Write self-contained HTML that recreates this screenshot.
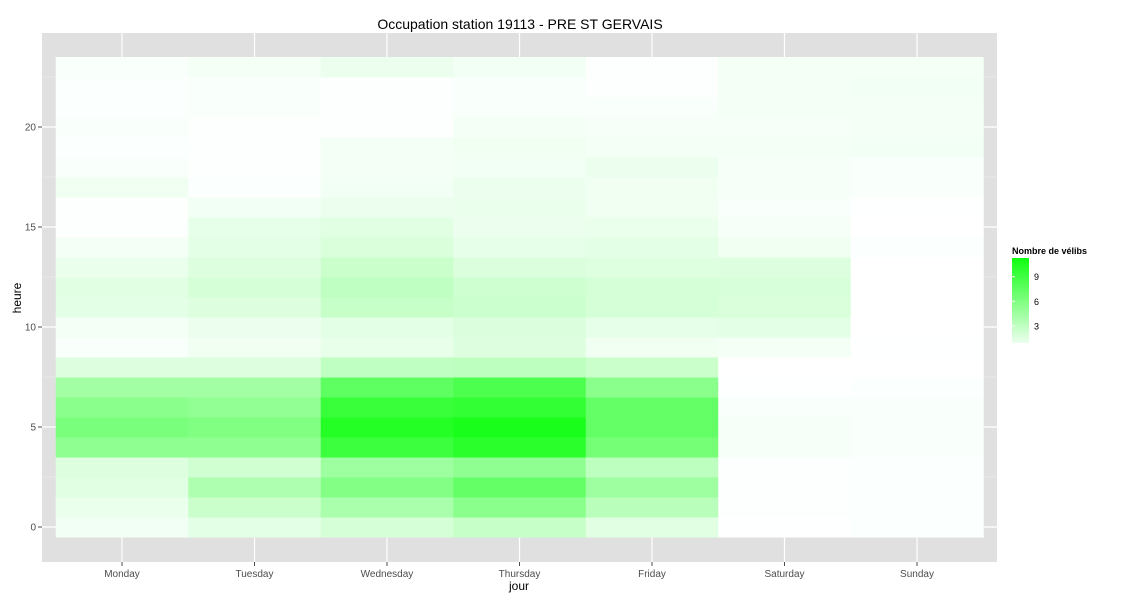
<!DOCTYPE html>
<html><head><meta charset="utf-8"><style>
body{margin:0;background:#fff;font-family:"Liberation Sans",sans-serif}
</style></head><body>
<svg id="chart" width="1125" height="600" xmlns="http://www.w3.org/2000/svg" font-family="Liberation Sans, sans-serif">
<text x="520" y="29" font-size="14" text-anchor="middle">Occupation station 19113 - PRE ST GERVAIS</text>
<rect x="42" y="33" width="955" height="529" fill="#e0e0e0"/>
<g id="grid"></g><g id="tiles"></g><g id="axes"></g>
<text x="519" y="590" font-size="12" text-anchor="middle">jour</text>
<text transform="translate(21,298) rotate(-90)" font-size="12" text-anchor="middle">heure</text>
<text x="1012" y="254" font-size="9" font-weight="bold">Nombre de vélibs</text>
<defs><linearGradient id="lg" x1="0" y1="1" x2="0" y2="0"></linearGradient></defs>
<rect x="1012" y="258" width="17" height="85" fill="url(#lg)"/>
<g id="legend"></g>
</svg>
<script>
const days=["Monday","Tuesday","Wednesday","Thursday","Friday","Saturday","Sunday"];
const hours=[0,1,2,3,4,5,6,7,8,9,10,11,12,13,14,15,16,17,18,19,20,21,22,23];
const yTicks=[0,5,10,15,20];
const legendTicks=[3,6,9];
const mon=[0.6,1.0,1.4,1.6,5.3,6.3,5.5,4.4,1.6,0.3,0.5,1.3,1.4,1.0,0.5,0.1,0.1,0.7,0.3,0.2,0.3,0.2,0.2,0.3];
const tue=[1.3,2.5,3.8,2.2,5.3,6.0,5.2,4.4,1.6,0.7,0.9,1.6,2.0,1.6,1.3,1.2,0.6,0.2,0.1,0.1,0.1,0.3,0.3,0.5];
const wed=[2.0,4.0,5.8,4.6,9.2,10.3,9.3,7.6,3.0,1.1,1.3,2.7,3.0,2.5,1.8,1.4,0.9,0.6,0.5,0.5,0.1,0.1,0.1,0.9];
const thu=[2.7,5.5,7.3,5.3,10.0,10.8,9.6,8.4,3.1,1.6,1.7,2.4,2.3,1.7,1.2,0.9,1.0,0.9,0.6,0.7,0.5,0.3,0.3,0.6];
const fri=[1.4,3.3,4.6,3.1,6.5,7.3,7.3,5.5,2.5,0.7,1.2,2.0,2.0,1.5,1.3,1.0,0.7,0.7,0.9,0.5,0.4,0.3,0.1,0.1];
const sat=[0.05,0.1,0.1,0.1,0.4,0.4,0.3,0.05,0.0,0.5,1.3,1.8,1.9,1.6,0.7,0.4,0.3,0.4,0.4,0.5,0.4,0.5,0.5,0.5];
const sun=[0.2,0.2,0.2,0.2,0.3,0.3,0.3,0.2,0.0,0.05,0.0,0.0,0.0,0.0,0.2,0.0,0.05,0.3,0.3,0.6,0.5,0.5,0.6,0.5];
const series=[mon,tue,wed,thu,fri,sat,sun];
const NS="http://www.w3.org/2000/svg";
const colW=132.5, x0=122, yBase=527, pxH=20, vmax=12;
const xs=i=>x0+i*colW;
const ys=h=>yBase-h*pxH;
function col(v){const t=Math.max(0,Math.min(1,v/vmax));const r=Math.round(255*(1-t));return `rgb(${r},255,${Math.min(255,r+2)})`;}
function mk(tag,attrs,parent){const e=document.createElementNS(NS,tag);for(const k in attrs)e.setAttribute(k,attrs[k]);parent.appendChild(e);return e;}
const grid=document.getElementById('grid'),tiles=document.getElementById('tiles'),axes=document.getElementById('axes');
for(let v=2.5;v<=25;v+=5){const l=mk('line',{x1:42,x2:997,y1:ys(v),y2:ys(v),stroke:'#f0f0f0','stroke-width':0.6},grid);

}
yTicks.forEach(t=>{const l=mk('line',{x1:42,x2:997,y1:ys(t),y2:ys(t),stroke:'#fff','stroke-width':1.2},grid);


const tx=mk('text',{x:36,y:ys(t)+3.5,'font-size':10,fill:'#4d4d4d','text-anchor':'end'},axes);tx.textContent=t;


const tk=mk('line',{x1:38,x2:42,y1:ys(t),y2:ys(t),stroke:'#4d4d4d'},axes);

});
days.forEach((d,i)=>{const l=mk('line',{x1:xs(i),x2:xs(i),y1:33,y2:562,stroke:'#fff','stroke-width':1.2},grid);


const tx=mk('text',{x:xs(i),y:577,'font-size':10,fill:'#4d4d4d','text-anchor':'middle'},axes);tx.textContent=d;


const tk=mk('line',{x1:xs(i),x2:xs(i),y1:562,y2:566,stroke:'#4d4d4d'},axes);

});
series.forEach((s,i)=>{hours.forEach((h,j)=>{const r=mk('rect',{x:xs(i)-colW/2,y:ys(h)-pxH/2,width:colW+0.5,height:pxH+0.5,fill:col(s[j])},tiles);

});});
const lg=document.getElementById('lg');
for(let k=0;k<=10;k++){const v=0.9+(11.3-0.9)*k/10;mk('stop',{offset:(k*10)+'%','stop-color':col(v)},lg);}
const leg=document.getElementById('legend');
const ly=v=>350.5-v*8.2;
legendTicks.forEach(t=>{const tx=mk('text',{x:1034,y:ly(t)+3.5,'font-size':9},leg);tx.textContent=t;


const l=mk('line',{x1:1012,x2:1015,y1:ly(t),y2:ly(t),stroke:'#fff'},leg);

});
</script>
</body></html>
